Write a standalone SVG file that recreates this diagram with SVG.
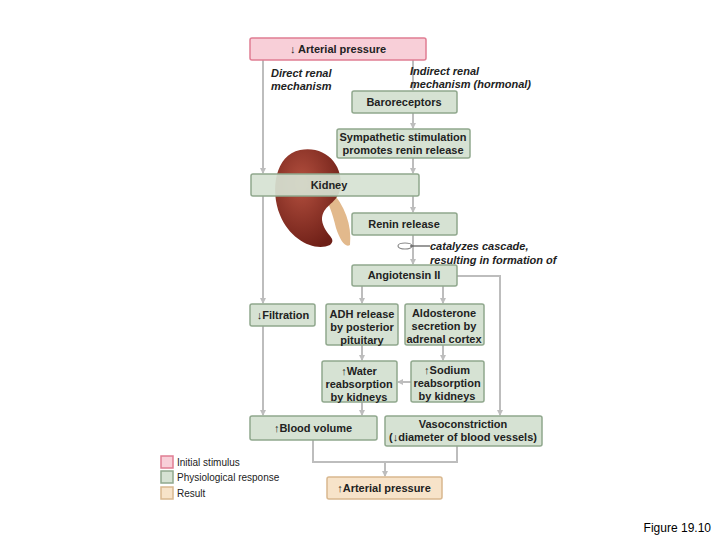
<svg xmlns="http://www.w3.org/2000/svg" width="720" height="540" viewBox="0 0 720 540">
<defs>
<style>
.g{fill:#d6e2d3;stroke:#90a88d;stroke-width:1.5}
.p{fill:#f8cfd8;stroke:#e07d93;stroke-width:1.5}
.r{fill:#f7e3c9;stroke:#d9b88f;stroke-width:1.5}
.t{font-family:"Liberation Sans",Arial,sans-serif;font-size:11px;font-weight:bold;fill:#222;text-anchor:middle}
.i{font-family:"Liberation Sans",Arial,sans-serif;font-size:11px;font-weight:bold;font-style:italic;fill:#222}
.l{font-family:"Liberation Sans",Arial,sans-serif;font-size:10px;fill:#222}
.c{fill:none;stroke:#bdbdbd;stroke-width:2}
</style>
<marker id="a" markerWidth="6" markerHeight="6" refX="5" refY="3" orient="auto" markerUnits="userSpaceOnUse"><path d="M0,0L6,3L0,6z" fill="#bdbdbd"/></marker>
<radialGradient id="kg" cx="0.4" cy="0.35" r="0.7"><stop offset="0" stop-color="#b4503f"/><stop offset="1" stop-color="#6e1f17"/></radialGradient>
</defs>
<rect width="720" height="540" fill="#fff"/>
<g id="kidney-image">
<path d="M330,190 C345,205 352,225 350,245 C345,248 340,240 336,228 C333,215 328,200 322,192z" fill="#e2b98c"/>
<path d="M300,150 C325,145 345,165 340,190 C336,205 322,205 322,220 C324,235 338,238 330,245 C315,252 290,240 280,215 C270,190 275,155 300,150z" fill="url(#kg)"/>
</g>
<g id="connectors">
<path class="c" d="M263,60V173" marker-end="url(#a)"/>
<path class="c" d="M263,196V303" marker-end="url(#a)"/>
<path class="c" d="M263,326V415" marker-end="url(#a)"/>
<path class="c" d="M413,60V90" marker-end="url(#a)"/>
<path class="c" d="M413,113V128" marker-end="url(#a)"/>
<path class="c" d="M413,158V173" marker-end="url(#a)"/>
<path class="c" d="M413,196V212" marker-end="url(#a)"/>
<path class="c" d="M413,235V264" marker-end="url(#a)"/>
<path class="c" d="M457,276H500V415" marker-end="url(#a)"/>
<path class="c" d="M362,286V303" marker-end="url(#a)"/>
<path class="c" d="M443,286V303" marker-end="url(#a)"/>
<path class="c" d="M362,345V360" marker-end="url(#a)"/>
<path class="c" d="M443,345V360" marker-end="url(#a)"/>
<path class="c" d="M411,382H398" marker-end="url(#a)"/>
<path class="c" d="M362,402V415" marker-end="url(#a)"/>
<path class="c" d="M313,440V462H457V446"/>
<path class="c" d="M385,462V476" marker-end="url(#a)"/>
<ellipse cx="405" cy="246" rx="7" ry="3" fill="#fff" stroke="#888" stroke-width="1.2"/>
<path d="M410,246H430" stroke="#555" stroke-width="1.2"/>
</g>
<text class="i" x="271" y="77">Direct renal</text><text class="i" x="271" y="90">mechanism</text>
<text class="i" x="410" y="75">Indirect renal</text><text class="i" x="410" y="88">mechanism (hormonal)</text>
<text class="i" x="430" y="250">catalyzes cascade,</text><text class="i" x="430" y="264">resulting in formation of</text>
<g id="n-arterial"><rect class="p" x="250" y="38" width="176" height="22" rx="2"/><text class="t" x="338" y="53">↓ Arterial pressure</text></g>
<g id="n-baro"><rect class="g" x="352" y="91" width="105" height="22" rx="2"/><text class="t" x="404" y="106">Baroreceptors</text></g>
<g id="n-symp"><rect class="g" x="337" y="129" width="133" height="29" rx="2"/><text class="t" x="403" y="141">Sympathetic stimulation</text><text class="t" x="403" y="154">promotes renin release</text></g>
<g id="n-kidney"><rect class="g" x="251" y="174" width="168" height="22" rx="2" fill-opacity="0.92"/><text class="t" x="329" y="189">Kidney</text></g>
<g id="n-renin"><rect class="g" x="352" y="213" width="105" height="22" rx="2"/><text class="t" x="404" y="228">Renin release</text></g>
<g id="n-ang"><rect class="g" x="352" y="265" width="105" height="21" rx="2"/><text class="t" x="404" y="279">Angiotensin II</text></g>
<g id="n-filt"><rect class="g" x="250" y="304" width="65" height="22" rx="2"/><text class="t" x="283" y="319">↓Filtration</text></g>
<g id="n-adh"><rect class="g" x="326" y="304" width="72" height="41" rx="2"/><text class="t" x="362" y="318">ADH release</text><text class="t" x="362" y="331">by posterior</text><text class="t" x="362" y="344">pituitary</text></g>
<g id="n-aldo"><rect class="g" x="405" y="304" width="79" height="41" rx="2"/><text class="t" x="444" y="317">Aldosterone</text><text class="t" x="444" y="330">secretion by</text><text class="t" x="444" y="343">adrenal cortex</text></g>
<g id="n-water"><rect class="g" x="322" y="361" width="75" height="41" rx="2"/><text class="t" x="359" y="375">↑Water</text><text class="t" x="359" y="388">reabsorption</text><text class="t" x="359" y="401">by kidneys</text></g>
<g id="n-sodium"><rect class="g" x="411" y="361" width="73" height="41" rx="2"/><text class="t" x="447" y="374">↑Sodium</text><text class="t" x="447" y="387">reabsorption</text><text class="t" x="447" y="400">by kidneys</text></g>
<g id="n-blood"><rect class="g" x="250" y="416" width="127" height="24" rx="2"/><text class="t" x="313" y="432">↑Blood volume</text></g>
<g id="n-vaso"><rect class="g" x="385" y="416" width="157" height="30" rx="2"/><text class="t" x="463" y="428">Vasoconstriction</text><text class="t" x="463" y="441">(↓diameter of blood vessels)</text></g>
<g id="n-result"><rect class="r" x="327" y="477" width="115" height="22" rx="2"/><text class="t" x="384" y="492">↑Arterial pressure</text></g>
<g id="legend">
<rect class="p" x="161" y="456" width="12" height="12"/><text class="l" x="177" y="466">Initial stimulus</text>
<rect class="g" x="161" y="471" width="12" height="12"/><text class="l" x="177" y="481">Physiological response</text>
<rect class="r" x="161" y="487" width="12" height="12"/><text class="l" x="177" y="497">Result</text>
</g>
<text x="711" y="532" font-family="Liberation Sans,Arial,sans-serif" font-size="12" fill="#000" text-anchor="end">Figure 19.10</text>
</svg>
